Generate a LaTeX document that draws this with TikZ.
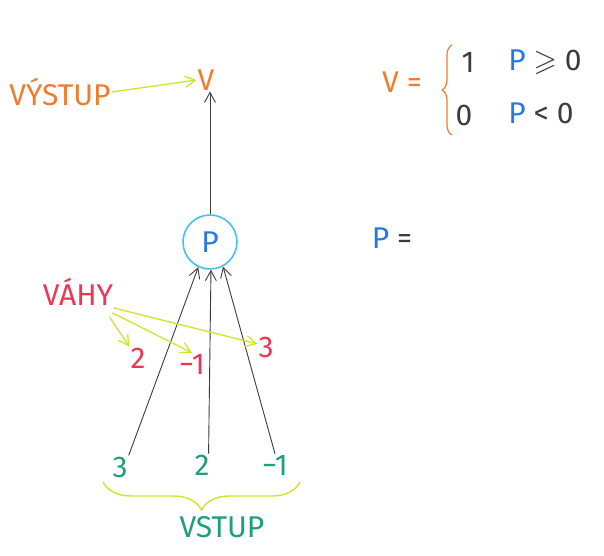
\documentclass[tikz,border=0pt]{standalone}
\usepackage{fontspec}
\usepackage{amssymb}
\setmainfont{Fira Sans}
\usetikzlibrary{arrows.meta, decorations.pathreplacing}

\definecolor{vystupcol}{RGB}{240,125,45}
\definecolor{lime}{RGB}{205,230,45}
\definecolor{ringcol}{RGB}{70,195,230}
\definecolor{pcol}{RGB}{40,120,225}
\definecolor{vstupcol}{RGB}{30,160,115}
\definecolor{vahycol}{RGB}{235,55,85}
\definecolor{pencil}{RGB}{60,60,60}

\tikzset{
  txt/.style={font=\fontsize{30}{34}\selectfont, inner sep=1pt},
  wire/.style={->, pencil, line width=0.9pt},
  hint/.style={->, lime, line width=1.3pt},
}

\begin{document}
\begin{tikzpicture}[x=1pt, y=-1pt, >={Straight Barb[length=10pt,width=11pt]}]
    \useasboundingbox[fill=white] (0,0) rectangle (604,555);

    % output
    \node[txt, vystupcol] (vystup) at (60,92) {VÝSTUP};
    \node[txt, vystupcol] (v) at (206,80) {V};
    \draw[hint] (vystup.east) -- (v.west);

    % neuron
    \node[txt, pcol, draw=ringcol, circle, line width=1.6pt, minimum size=54pt] (p) at (210,242) {P};
    \draw[wire] (p.north) -- (p.north |- v.south);

    % inputs
    \node[txt, vstupcol] (in3) at (120,467) {3};
    \node[txt, vstupcol] (in2) at (202,465) {2};
    \node[txt, vstupcol] (in1) at (275,465) {−1};

    \draw[wire] (in3.north east) -- (p.245);
    \draw[wire] (in2.60) -- (p.272);
    \draw[wire] (in1.north) -- (p.298);

    \coordinate (bl) at (103,482);
    \coordinate (br) at (300,482);
    \draw[lime, line width=1.4pt, decorate, decoration={brace, amplitude=28pt}] (br) -- (bl);
    \node[txt, vstupcol] (vstup) at (222,527) {VSTUP};

    % weights
    \node[txt, vahycol] (vahy) at (78,292) {VÁHY};
    \node[txt, vahycol] (w2) at (138,358) {2};
    \node[txt, vahycol] (w1) at (192,364) {−1};
    \node[txt, vahycol] (w3) at (266,347) {3};

    \draw[hint] ([shift={(-5,10)}]vahy.south east) -- (w2.north west);
    \draw[hint] ([shift={(-2,6)}]vahy.south east) -- (w1.north);
    \draw[hint] ([shift={(-1,1)}]vahy.south east) -- (w3.160);

    % formulas
    \node[txt, vystupcol] (veq) at (402,82) {V =};
    \coordinate (cb) at (452,135);
    \coordinate (ct) at (452,45);
    \draw[vystupcol, line width=1.2pt, decorate, decoration={brace, amplitude=10pt}] (cb) -- (ct);
    \node[txt, pencil] (one) at (468,62) {1};
    \node[txt, pencil] (zero) at (464,115) {0};
    \node[txt, pencil] (pge) at (545,62) {\textcolor{pcol}{P} $\geqslant$ 0};
    \node[txt, pencil] (plt) at (541,113) {\textcolor{pcol}{P} < 0};

    \node[txt, pencil] (peq) at (392,238) {\textcolor{pcol}{P} =};
\end{tikzpicture}
\end{document}
